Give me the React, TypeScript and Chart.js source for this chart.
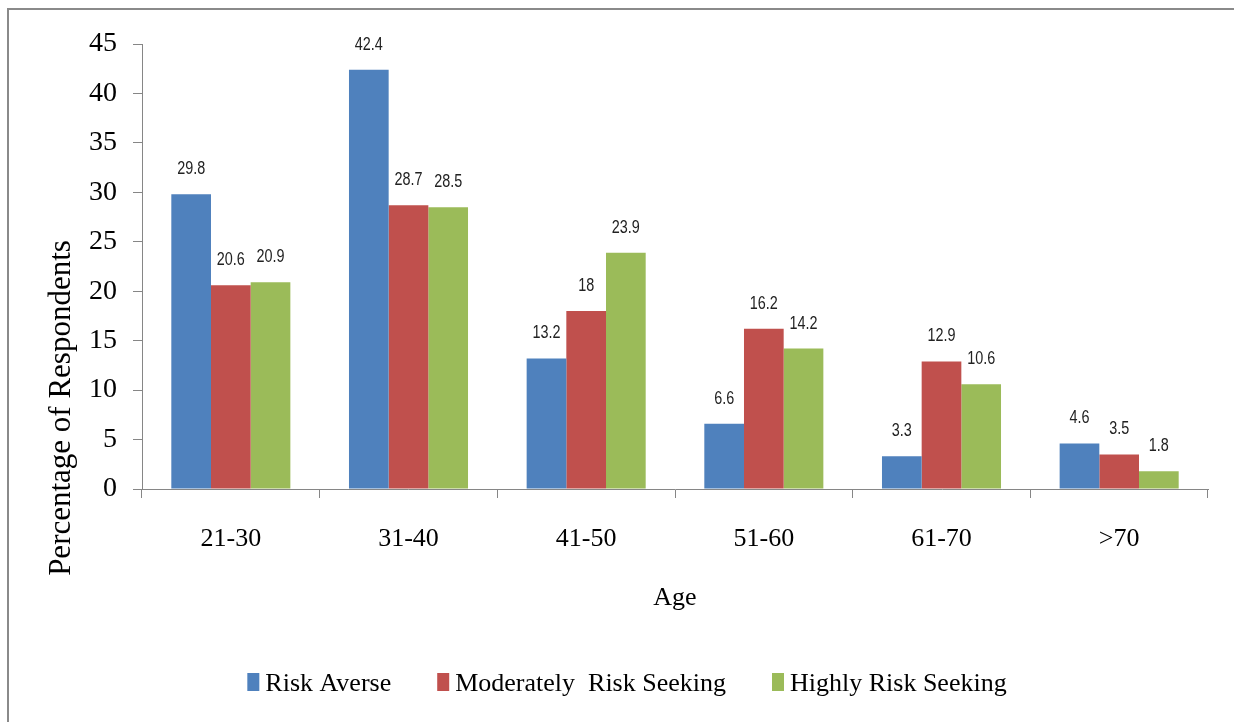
import React, { useEffect, useRef } from "react";
import { Chart, registerables } from "chart.js";

Chart.register(...registerables);

// Age bands on the category axis
const ageGroups = ["21-30", "31-40", "41-50", "51-60", "61-70", ">70"];

// Share of respondents (%) in each risk profile
const riskAverse = [29.8, 42.4, 13.2, 6.6, 3.3, 4.6];
const moderatelyRiskSeeking = [20.6, 28.7, 18, 16.2, 12.9, 3.5];
const highlyRiskSeeking = [20.9, 28.5, 23.9, 14.2, 10.6, 1.8];

const seriesNames = ["Risk Averse", "Moderately  Risk Seeking", "Highly Risk Seeking"];
const seriesColors = ["#4F81BD", "#C0504D", "#9BBB59"];

const yMin = 0;
const yMax = 45;
const yStep = 5;

const xTitle = "Age";
const yTitle = "Percentage of Respondents";

const SERIF = '"Liberation Serif", "Times New Roman", serif';
const SANS = '"Liberation Sans", Arial, sans-serif';
const AXIS_GREY = "#868686";

// Value printed above each bar, in a horizontally condensed face
const valueLabels = {
  id: "valueLabels",
  afterDatasetsDraw(chart: any) {
    const ctx = chart.ctx;
    const squeeze = 0.8;
    ctx.save();
    ctx.font = `18px ${SANS}`;
    ctx.fillStyle = "#222222";
    ctx.textAlign = "center";
    ctx.textBaseline = "middle";
    chart.data.datasets.forEach((ds: any, i: number) => {
      const meta = chart.getDatasetMeta(i);
      meta.data.forEach((bar: any, j: number) => {
        ctx.save();
        ctx.translate(bar.x, bar.y - 25);
        ctx.scale(squeeze, 1);
        ctx.fillText(String(ds.data[j]), 0, 0);
        ctx.restore();
      });
    });
    ctx.restore();
  },
};

// Axis titles and the legend row underneath
const decorations = {
  id: "decorations",
  afterDraw(chart: any) {
    const ctx = chart.ctx;
    const area = chart.chartArea;
    ctx.save();
    ctx.fillStyle = "#000000";
    ctx.textAlign = "center";
    ctx.textBaseline = "middle";

    // x title
    ctx.font = `26px ${SERIF}`;
    ctx.fillText(xTitle, (area.left + area.right) / 2, 598);

    // y title
    ctx.save();
    ctx.translate(62, 408);
    ctx.rotate(-Math.PI / 2);
    ctx.font = `31px ${SERIF}`;
    ctx.fillText(yTitle, 0, 0);
    ctx.restore();

    // legend
    ctx.font = `26px ${SERIF}`;
    ctx.textAlign = "left";
    const boxW = 12;
    const boxH = 18;
    const boxGap = 6;
    const itemGap = 46;
    const items = chart.data.datasets.map((ds: any) => ({
      label: ds.label as string,
      color: ds.backgroundColor as string,
      w: ctx.measureText(ds.label).width,
    }));
    const total =
      items.reduce((s: number, it: any) => s + boxW + boxGap + it.w, 0) +
      itemGap * (items.length - 1);
    let x = 627 - total / 2;
    const cy = 684;
    items.forEach((it: any) => {
      ctx.fillStyle = it.color;
      ctx.fillRect(x, 673, boxW, boxH);
      x += boxW + boxGap;
      ctx.fillStyle = "#000000";
      ctx.fillText(it.label, x, cy);
      x += it.w + itemGap;
    });
    ctx.restore();
  },
};

function RiskChart() {
  const canvasRef = useRef<HTMLCanvasElement | null>(null);

  useEffect(() => {
    const canvas = canvasRef.current;
    if (!canvas) return;
    const seriesValues = [riskAverse, moderatelyRiskSeeking, highlyRiskSeeking];
    const chart = new Chart(canvas, {
      type: "bar",
      data: {
        labels: ageGroups,
        datasets: seriesValues.map((values, i) => ({
          label: seriesNames[i],
          data: values,
          backgroundColor: seriesColors[i],
          borderWidth: 0,
          categoryPercentage: 0.67,
          barPercentage: 1.0,
        })),
      },
      options: {
        responsive: false,
        animation: false,
        layout: { padding: { top: 44, right: 26, bottom: 0, left: 0 } },
        plugins: {
          legend: { display: false },
          tooltip: { enabled: false },
          title: { display: false },
        },
        scales: {
          x: {
            afterFit(scale: any) {
              scale.height = 233;
            },
            grid: {
              display: true,
              offset: true,
              drawOnChartArea: false,
              drawTicks: true,
              tickLength: 9,
              color: AXIS_GREY,
              lineWidth: 1,
            },
            border: { display: true, color: AXIS_GREY, width: 1 },
            ticks: {
              color: "#000000",
              font: { family: SERIF, size: 26 },
              padding: 26,
              maxRotation: 0,
              autoSkip: false,
            },
          },
          y: {
            min: yMin,
            max: yMax,
            afterFit(scale: any) {
              scale.width = 142;
            },
            grid: {
              display: true,
              drawOnChartArea: false,
              drawTicks: true,
              tickLength: 9,
              color: AXIS_GREY,
              lineWidth: 1,
            },
            border: { display: true, color: AXIS_GREY, width: 1 },
            ticks: {
              stepSize: yStep,
              color: "#000000",
              font: { family: SERIF, size: 28 },
              padding: 16,
            },
          },
        },
      },
      plugins: [valueLabels, decorations],
    });
    return () => chart.destroy();
  }, []);

  return (
    <canvas
      ref={canvasRef}
      width={1234}
      height={722}
      style={{ position: "absolute", left: 0, top: 0, width: 1234, height: 722 }}
    />
  );
}

export default function App() {
  return (
    <div
      style={{
        position: "fixed",
        left: 0,
        top: 0,
        width: 1234,
        height: 722,
        background: "#ffffff",
        overflow: "hidden",
      }}
    >
      <div
        style={{
          position: "absolute",
          left: 7,
          top: 8,
          width: 1240,
          height: 730,
          borderTop: "2px solid #8a8a8a",
          borderLeft: "2px solid #8a8a8a",
        }}
      />
      <RiskChart />
    </div>
  );
}
